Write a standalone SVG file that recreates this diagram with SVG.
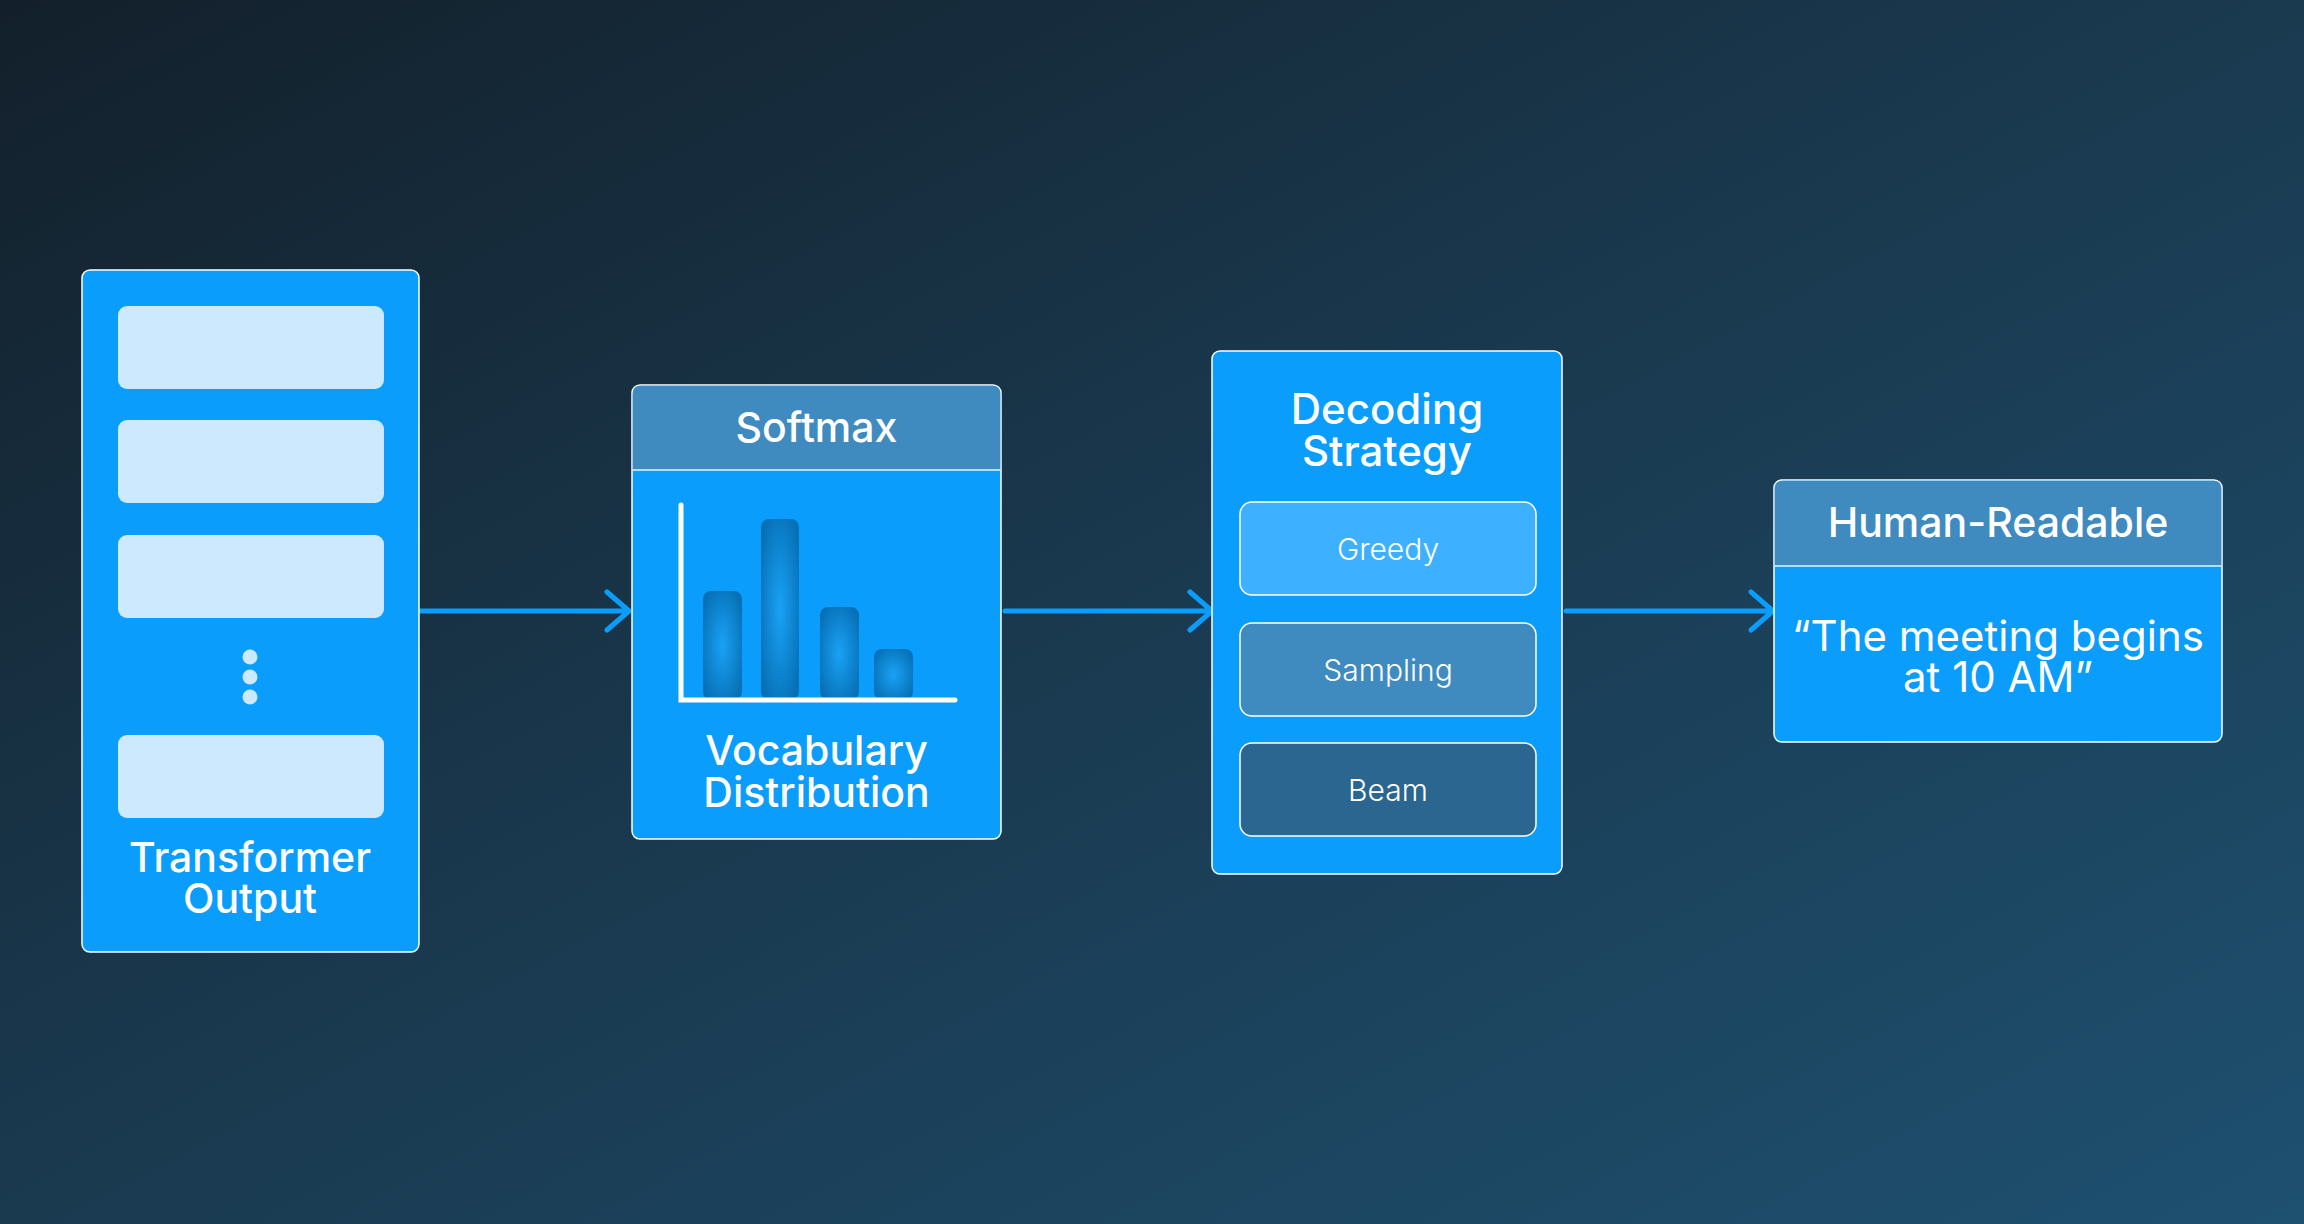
<svg xmlns="http://www.w3.org/2000/svg" width="2304" height="1224" viewBox="0 0 2304 1224">
<defs>
<linearGradient id="bg" x1="0" y1="0" x2="1" y2="1">
<stop offset="0" stop-color="#13202b"/>
<stop offset="0.5" stop-color="#1a3a50"/>
<stop offset="1" stop-color="#1e5070"/>
</linearGradient>
<radialGradient id="bar" cx="0.5" cy="0.5" r="0.6">
<stop offset="0" stop-color="#1aa2f5"/>
<stop offset="1" stop-color="#0670b6"/>
</radialGradient>
<style>
.box{fill:#0a9dfc;stroke:#ffffff;stroke-width:1.5}
.hdr{fill:#3f8bbf}
.sep{stroke:#e8f4ff;stroke-width:1.5}
.slot{fill:#cce9fd}
.title{font-family:Inter,"Noto Sans",sans-serif;font-weight:500;fill:#ffffff;text-anchor:middle}
.quote{font-family:Inter,"Noto Sans",sans-serif;font-weight:400;fill:#ffffff;text-anchor:middle}
.opt{font-family:Inter,"Noto Sans",sans-serif;font-weight:300;fill:#ffffff;text-anchor:middle;font-size:30px}
.conn{stroke:#0a9dfc;stroke-width:5;fill:none;stroke-linecap:round;stroke-linejoin:round}
</style>
</defs>
<rect width="2304" height="1224" fill="url(#bg)"/>

<g id="connectors">
<path class="conn" d="M420 611 H628 M607 592 L629 611 L607 630"/>
<path class="conn" d="M1005 611 H1211 M1190 592 L1212 611 L1190 630"/>
<path class="conn" d="M1566 611 H1772 M1751 592 L1773 611 L1751 630"/>
</g>

<g id="transformer-output">
<rect class="box" x="82" y="270" width="337" height="682" rx="8"/>
<rect class="slot" x="118" y="306" width="266" height="83" rx="9"/>
<rect class="slot" x="118" y="420" width="266" height="83" rx="9"/>
<rect class="slot" x="118" y="535" width="266" height="83" rx="9"/>
<circle class="slot" cx="250" cy="657" r="7.5"/>
<circle class="slot" cx="250" cy="677" r="7.5"/>
<circle class="slot" cx="250" cy="697" r="7.5"/>
<rect class="slot" x="118" y="735" width="266" height="83" rx="9"/>
<text class="title" font-size="41"><tspan x="250" y="872">Transformer</tspan><tspan x="250" y="913">Output</tspan></text>
</g>

<g id="softmax">
<rect class="box" x="632" y="385" width="369" height="454" rx="8"/>
<path class="hdr" d="M640 385.75 H993 A7.25 7.25 0 0 1 1000.25 393 V469.5 H632.75 V393 A7.25 7.25 0 0 1 640 385.75 Z"/>
<line class="sep" x1="632.75" y1="470" x2="1000.25" y2="470"/>
<text class="title" x="816.5" y="442" font-size="41">Softmax</text>
<rect x="703" y="591" width="39" height="109" rx="8" fill="url(#bar)"/>
<rect x="761" y="519" width="38" height="181" rx="8" fill="url(#bar)"/>
<rect x="820" y="607" width="39" height="93" rx="8" fill="url(#bar)"/>
<rect x="874" y="649" width="39" height="51" rx="8" fill="url(#bar)"/>
<path d="M681 505 V700 H955" stroke="#ffffff" stroke-width="5" fill="none" stroke-linecap="round"/>
<text class="title" font-size="41"><tspan x="816.5" y="765">Vocabulary</tspan><tspan x="816.5" y="807">Distribution</tspan></text>
</g>

<g id="decoding-strategy">
<rect class="box" x="1212" y="351" width="350" height="523" rx="8"/>
<text class="title" font-size="42"><tspan x="1387" y="424">Decoding</tspan><tspan x="1387" y="466">Strategy</tspan></text>
</g>
<g id="greedy">
<rect x="1240" y="502" width="296" height="93" rx="12" fill="#3db1ff" stroke="#ffffff" stroke-width="1.5"/>
<text class="opt" x="1388" y="560">Greedy</text>
</g>
<g id="sampling">
<rect x="1240" y="623" width="296" height="93" rx="12" fill="#3f8bbf" stroke="#ffffff" stroke-width="1.5"/>
<text class="opt" x="1388" y="681">Sampling</text>
</g>
<g id="beam">
<rect x="1240" y="743" width="296" height="93" rx="12" fill="#2a668f" stroke="#ffffff" stroke-width="1.5"/>
<text class="opt" x="1388" y="801">Beam</text>
</g>

<g id="human-readable">
<rect class="box" x="1774" y="480" width="448" height="262" rx="8"/>
<path class="hdr" d="M1782 480.75 H2214 A7.25 7.25 0 0 1 2221.25 488 V565.5 H1774.75 V488 A7.25 7.25 0 0 1 1782 480.75 Z"/>
<line class="sep" x1="1774.75" y1="566" x2="2221.25" y2="566"/>
<text class="title" x="1998" y="537" font-size="41">Human-Readable</text>
<text class="quote" font-size="42"><tspan x="1998" y="651">“The meeting begins</tspan><tspan x="1998" y="692">at 10 AM”</tspan></text>
</g>
</svg>
